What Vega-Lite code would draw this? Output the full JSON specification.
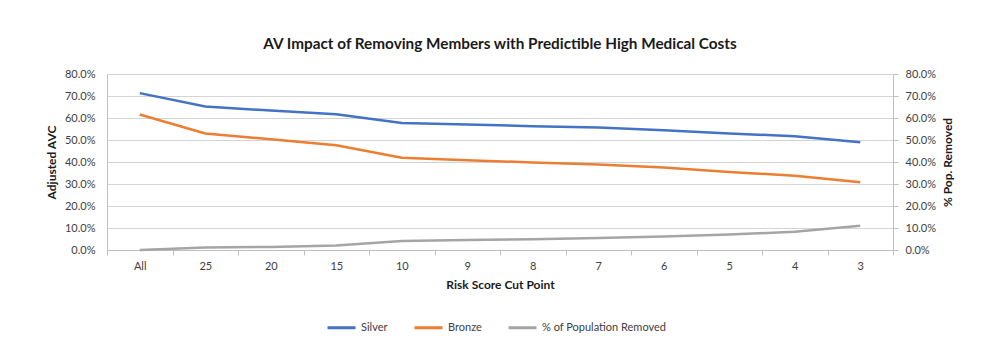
{
  "$schema": "https://vega.github.io/schema/vega-lite/v6.json",
  "width": 786,
  "height": 176,
  "autosize": {"type": "none"},
  "padding": {"left": 107, "top": 74, "right": 94, "bottom": 112},
  "background": "white",
  "config": {"font": "Lato", "view": {"stroke": null}},
  "title": {"text": "AV Impact of Removing Members with Predictible High Medical Costs", "fontSize": 15.3, "fontWeight": "bold", "color": "#1a1a1a", "anchor": "middle", "offset": 16, "font": "Lato"},
  "data": {"values": [
    {"cut": "All", "series": "Silver", "value": 0.713},
    {"cut": "25", "series": "Silver", "value": 0.652},
    {"cut": "20", "series": "Silver", "value": 0.634},
    {"cut": "15", "series": "Silver", "value": 0.617},
    {"cut": "10", "series": "Silver", "value": 0.577},
    {"cut": "9", "series": "Silver", "value": 0.570},
    {"cut": "8", "series": "Silver", "value": 0.563},
    {"cut": "7", "series": "Silver", "value": 0.557},
    {"cut": "6", "series": "Silver", "value": 0.544},
    {"cut": "5", "series": "Silver", "value": 0.530},
    {"cut": "4", "series": "Silver", "value": 0.517},
    {"cut": "3", "series": "Silver", "value": 0.490},
    {"cut": "All", "series": "Bronze", "value": 0.616},
    {"cut": "25", "series": "Bronze", "value": 0.530},
    {"cut": "20", "series": "Bronze", "value": 0.503},
    {"cut": "15", "series": "Bronze", "value": 0.476},
    {"cut": "10", "series": "Bronze", "value": 0.419},
    {"cut": "9", "series": "Bronze", "value": 0.408},
    {"cut": "8", "series": "Bronze", "value": 0.398},
    {"cut": "7", "series": "Bronze", "value": 0.389},
    {"cut": "6", "series": "Bronze", "value": 0.375},
    {"cut": "5", "series": "Bronze", "value": 0.355},
    {"cut": "4", "series": "Bronze", "value": 0.338},
    {"cut": "3", "series": "Bronze", "value": 0.308},
    {"cut": "All", "series": "% of Population Removed", "value": 0.0},
    {"cut": "25", "series": "% of Population Removed", "value": 0.011},
    {"cut": "20", "series": "% of Population Removed", "value": 0.014},
    {"cut": "15", "series": "% of Population Removed", "value": 0.021},
    {"cut": "10", "series": "% of Population Removed", "value": 0.041},
    {"cut": "9", "series": "% of Population Removed", "value": 0.045},
    {"cut": "8", "series": "% of Population Removed", "value": 0.049},
    {"cut": "7", "series": "% of Population Removed", "value": 0.054},
    {"cut": "6", "series": "% of Population Removed", "value": 0.061},
    {"cut": "5", "series": "% of Population Removed", "value": 0.070},
    {"cut": "4", "series": "% of Population Removed", "value": 0.083},
    {"cut": "3", "series": "% of Population Removed", "value": 0.110}
  ]},
  "encoding": {
    "x": {
      "field": "cut", "type": "ordinal",
      "sort": ["All", "25", "20", "15", "10", "9", "8", "7", "6", "5", "4", "3"],
      "bandPosition": 0.5,
      "scale": {"type": "band", "paddingInner": 0, "paddingOuter": 0},
      "axis": {
        "title": "Risk Score Cut Point", "titleFontSize": 12, "titleFontWeight": "bold", "titleColor": "#1a1a1a", "titlePadding": 8,
        "labelAngle": 0, "labelFontSize": 11, "labelColor": "#404040", "labelPadding": 5,
        "domainColor": "#BFBFBF", "tickColor": "#BFBFBF", "tickSize": 5, "tickBand": "extent", "grid": false
      }
    },
    "color": {
      "field": "series", "type": "nominal",
      "scale": {"domain": ["Silver", "Bronze", "% of Population Removed"], "range": ["#4472C4", "#ED7D31", "#A5A5A5"]},
      "legend": {
        "title": null, "orient": "none", "legendX": 219, "legendY": 238, "direction": "horizontal",
        "symbolType": "stroke", "symbolSize": 784, "symbolStrokeWidth": 3, "labelFontSize": 11, "labelColor": "#404040",
        "labelOffset": 4, "columnPadding": 20
      }
    }
  },
  "layer": [
    {
      "transform": [{"filter": "datum.series != '% of Population Removed'"}],
      "mark": {"type": "line", "strokeWidth": 2.5},
      "encoding": {
        "y": {
          "field": "value", "type": "quantitative",
          "scale": {"domain": [0, 0.8]},
          "axis": {
            "title": "Adjusted AVC", "titleFontSize": 12, "titleFontWeight": "bold", "titleColor": "#1a1a1a", "titlePadding": 6,
            "format": ".1%", "values": [0, 0.1, 0.2, 0.3, 0.4, 0.5, 0.6, 0.7, 0.8],
            "labelFontSize": 11, "labelColor": "#404040", "labelPadding": 12, "ticks": false,
            "domainColor": "#BFBFBF", "grid": true, "gridColor": "#D4D4D4", "gridWidth": 1.2
          }
        }
      }
    },
    {
      "transform": [{"filter": "datum.series == '% of Population Removed'"}],
      "mark": {"type": "line", "strokeWidth": 2.5},
      "encoding": {
        "y": {
          "field": "value", "type": "quantitative",
          "scale": {"domain": [0, 0.8]},
          "axis": {
            "orient": "right", "title": "% Pop. Removed", "titleAngle": 270, "titleBaseline": "top", "titleFontSize": 12, "titleFontWeight": "bold", "titleColor": "#1a1a1a", "titlePadding": 7,
            "format": ".1%", "values": [0, 0.1, 0.2, 0.3, 0.4, 0.5, 0.6, 0.7, 0.8],
            "labelFontSize": 11, "labelColor": "#404040", "labelPadding": 7, "ticks": true, "tickSize": 5, "tickColor": "#BFBFBF",
            "domainColor": "#BFBFBF", "grid": false
          }
        }
      }
    }
  ],
  "resolve": {"scale": {"y": "independent"}}
}
